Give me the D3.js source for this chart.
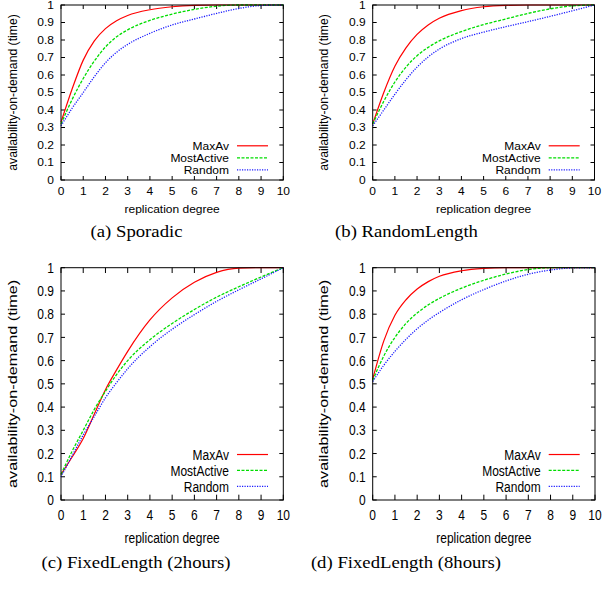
<!DOCTYPE html>
<html>
<head>
<meta charset="utf-8">
<script src="https://cdn.jsdelivr.net/npm/d3@7"></script>
<style>
  html, body { margin: 0; padding: 0; background: #fff; }
  svg { display: block; }
</style>
</head>
<body>
<svg id="chart" width="603" height="592"></svg>
<script>
// ---------------- DATA ----------------
const degrees = [0, 0.5, 1, 1.5, 2, 2.5, 3, 4, 5, 6, 7, 8, 9, 10];
const seriesNames = ["MaxAv", "MostActive", "Random"];
const xTicks = [0, 1, 2, 3, 4, 5, 6, 7, 8, 9, 10];
const yTicks = [0, 0.1, 0.2, 0.3, 0.4, 0.5, 0.6, 0.7, 0.8, 0.9, 1];
const yTickLabels = ["0", "0.1", "0.2", "0.3", "0.4", "0.5", "0.6", "0.7", "0.8", "0.9", "1"];
const xTitle = "replication degree";
const yTitle = "availability-on-demand (time)";
const captions = ["(a) Sporadic", "(b) RandomLength", "(c) FixedLength (2hours)", "(d) FixedLength (8hours)"];

const sporadicMaxAv      = [0.33, 0.52, 0.685, 0.795, 0.865, 0.91, 0.94, 0.973, 0.99, 0.998, 1, 1, 1, 1];
const sporadicMostActive = [0.32, 0.46, 0.58, 0.68, 0.76, 0.818, 0.858, 0.912, 0.948, 0.975, 0.993, 1, 1, 1];
const sporadicRandom     = [0.31, 0.41, 0.50, 0.59, 0.67, 0.73, 0.775, 0.838, 0.886, 0.92, 0.952, 0.98, 0.997, 1];

const randomLenMaxAv      = [0.32, 0.50, 0.65, 0.755, 0.832, 0.886, 0.924, 0.968, 0.99, 0.998, 1, 1, 1, 1];
const randomLenMostActive = [0.32, 0.45, 0.56, 0.645, 0.71, 0.758, 0.795, 0.848, 0.888, 0.92, 0.952, 0.978, 0.995, 1];
const randomLenRandom     = [0.31, 0.40, 0.49, 0.573, 0.645, 0.703, 0.748, 0.808, 0.845, 0.876, 0.905, 0.935, 0.967, 1];

const fixed2MaxAv      = [0.11, 0.185, 0.265, 0.37, 0.475, 0.56, 0.64, 0.775, 0.87, 0.937, 0.98, 0.998, 1, 1];
const fixed2MostActive = [0.11, 0.21, 0.30, 0.39, 0.468, 0.54, 0.60, 0.69, 0.76, 0.82, 0.873, 0.918, 0.96, 1];
const fixed2Random     = [0.10, 0.19, 0.28, 0.36, 0.44, 0.505, 0.565, 0.66, 0.735, 0.798, 0.855, 0.905, 0.952, 1];

const fixed8MaxAv      = [0.52, 0.685, 0.795, 0.862, 0.908, 0.94, 0.963, 0.987, 0.997, 1, 1, 1, 1, 1];
const fixed8MostActive = [0.515, 0.62, 0.70, 0.76, 0.805, 0.84, 0.868, 0.912, 0.946, 0.973, 0.992, 1, 1, 1];
const fixed8Random     = [0.51, 0.58, 0.64, 0.692, 0.737, 0.775, 0.807, 0.862, 0.906, 0.943, 0.972, 0.99, 0.999, 1];

// ---------------- LAYOUT ----------------
const panels = [
  { left: 61,    right: 283.3, top: 5,     bottom: 180, sy: 1,    cap: captions[0], capX: 136.5, capY: 237,
    data: [sporadicMaxAv, sporadicMostActive, sporadicRandom] },
  { left: 372.7, right: 594.5, top: 5,     bottom: 180, sy: 1,    cap: captions[1], capX: 406.5, capY: 237,
    data: [randomLenMaxAv, randomLenMostActive, randomLenRandom] },
  { left: 61,    right: 283.3, top: 267.7, bottom: 500, sy: 1.33, cap: captions[2], capX: 136,   capY: 568,
    data: [fixed2MaxAv, fixed2MostActive, fixed2Random] },
  { left: 372.7, right: 595,   top: 267.7, bottom: 500, sy: 1.33, cap: captions[3], capX: 406,   capY: 568,
    data: [fixed8MaxAv, fixed8MostActive, fixed8Random] }
];

const styles = [
  { color: "#ff0000", dash: null,     width: 1.2 },
  { color: "#00dd00", dash: "3,1.5",  width: 1.3 },
  { color: "#1a1aff", dash: "1.2,1.3", width: 1.3 }
];

const sansFont = "'Liberation Sans', Arial, Helvetica, sans-serif";
const serifFont = "'Liberation Serif', 'Times New Roman', serif";
const tickFont = 10.7, sx = 1.12;

const svg = d3.select("#chart");

function addText(g, x, y, txt, opts) {
  const o = Object.assign({ size: tickFont, sx: sx, sy: 1, anchor: "middle", rot: 0, family: sansFont }, opts);
  g.append("text")
    .attr("transform", `translate(${x},${y}) scale(${o.sx},${o.sy})` + (o.rot ? ` rotate(${o.rot})` : ""))
    .attr("text-anchor", o.anchor)
    .attr("font-family", o.family)
    .attr("font-size", o.size)
    .attr("fill", "#000")
    .text(txt);
}

panels.forEach(p => {
  const g = svg.append("g");
  const x = d3.scaleLinear().domain([0, 10]).range([p.left, p.right]);
  const y = d3.scaleLinear().domain([0, 1]).range([p.bottom, p.top]);
  const tl = 4;           // horizontal tick length
  const tlv = 4 * p.sy;   // vertical tick length

  // ticks (inward, mirrored)
  const ticks = g.append("g").attr("stroke", "#000").attr("stroke-width", 1);
  xTicks.forEach(t => {
    ticks.append("line").attr("x1", x(t)).attr("x2", x(t)).attr("y1", p.bottom).attr("y2", p.bottom - tlv);
    ticks.append("line").attr("x1", x(t)).attr("x2", x(t)).attr("y1", p.top).attr("y2", p.top + tlv);
  });
  yTicks.forEach(t => {
    ticks.append("line").attr("x1", p.left).attr("x2", p.left + tl).attr("y1", y(t)).attr("y2", y(t));
    ticks.append("line").attr("x1", p.right).attr("x2", p.right - tl).attr("y1", y(t)).attr("y2", y(t));
  });

  // tick labels
  xTicks.forEach(t => addText(g, x(t), p.bottom + 14.7 * p.sy, String(t), { sy: p.sy }));
  yTicks.forEach((t, i) => addText(g, p.left - 7, y(t) + 3.9 * p.sy, yTickLabels[i], { sy: p.sy, anchor: "end" }));

  // axis titles
  addText(g, (p.left + p.right) / 2, p.bottom + 32.5 * p.sy, xTitle, { sy: p.sy });
  addText(g, p.left - 44.5, (p.top + p.bottom) / 2, yTitle, { size: 12.2, sx: 1, sy: p.sy, rot: -90 });

  // curves
  const line = d3.line().x(d => x(d[0])).y(d => y(d[1])).curve(d3.curveMonotoneX);
  p.data.forEach((vals, si) => {
    const pts = degrees.map((d, i) => [d, vals[i]]);
    const path = g.append("path").datum(pts)
      .attr("d", line)
      .attr("fill", "none")
      .attr("stroke", styles[si].color)
      .attr("stroke-width", styles[si].width);
    if (styles[si].dash) path.attr("stroke-dasharray", styles[si].dash);
  });

  // legend
  const rowOff = [34.2, 22.2, 10.2];
  seriesNames.forEach((name, si) => {
    const ry = p.bottom - rowOff[si] * p.sy;
    addText(g, p.left + 168, ry + 3.9 * p.sy, name, { sy: p.sy, anchor: "end" });
    const l = g.append("line")
      .attr("x1", p.left + 176).attr("x2", p.left + 207)
      .attr("y1", ry).attr("y2", ry)
      .attr("stroke", styles[si].color)
      .attr("stroke-width", styles[si].width);
    if (styles[si].dash) l.attr("stroke-dasharray", styles[si].dash);
  });

  // border
  g.append("rect")
    .attr("x", p.left).attr("y", p.top)
    .attr("width", p.right - p.left).attr("height", p.bottom - p.top)
    .attr("fill", "none").attr("stroke", "#000").attr("stroke-width", 1);

  // caption
  addText(svg, p.capX, p.capY, p.cap, { size: 16, sx: 1.17, family: serifFont });
});
</script>
</body>
</html>
